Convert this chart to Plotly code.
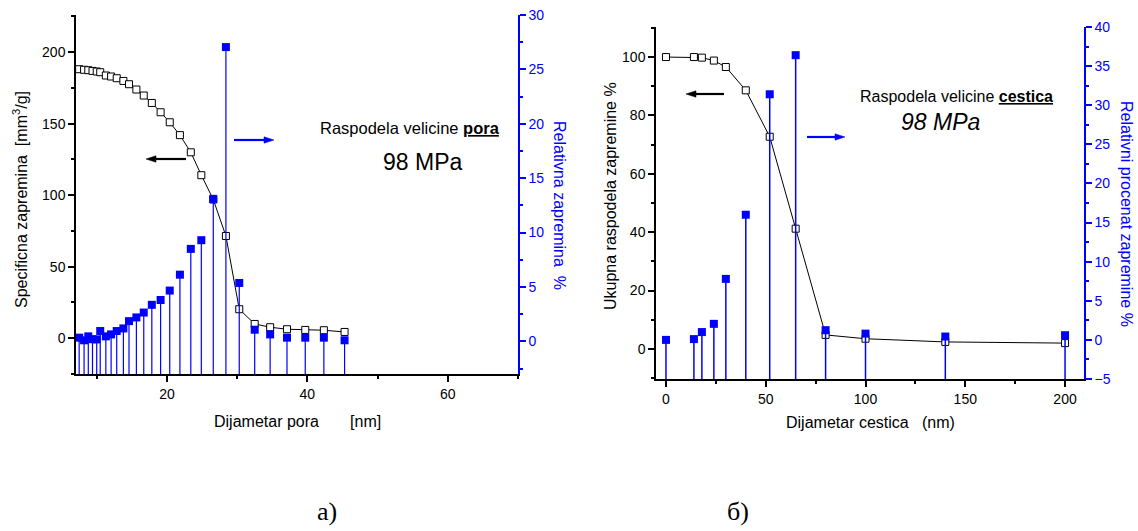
import plotly.graph_objects as go

# ---------- data: panel a) pore size distribution ----------
pore_d = [7.5, 8.2, 8.8, 9.4, 10.0, 10.5, 11.3, 12.05, 12.85, 13.8, 14.6, 15.65,
          16.7, 17.85, 19.1, 20.4, 21.85, 23.4, 24.9, 26.6, 28.4, 30.3, 32.5,
          34.7, 37.1, 39.7, 42.35, 45.3]
pore_cum = [188.1, 187.7, 187.4, 186.9, 186.5, 186.0, 183.7, 183.0, 181.8, 179.9,
            177.6, 173.9, 169.7, 164.5, 158.0, 151.0, 142.0, 130.0, 114.0, 97.0,
            71.5, 20.3, 10.0, 7.7, 6.3, 5.8, 5.6, 4.4]
pore_rel = [0.34, 0.1, 0.46, 0.2, 0.18, 0.95, 0.46, 0.64, 0.95, 1.19, 1.86, 2.2,
            2.65, 3.36, 3.8, 4.67, 6.13, 8.5, 9.3, 13.1, 27.05, 5.37, 1.07, 0.64,
            0.34, 0.34, 0.34, 0.1]

# ---------- data: panel b) particle size distribution ----------
part_d = [0, 14, 18, 24, 30, 40, 52, 65, 80, 100, 140, 200]
part_cum = [100.0, 100.0, 99.8, 98.8, 96.6, 88.6, 72.7, 41.2, 4.8, 3.5, 2.4, 2.0]
part_rel = [0.0, 0.1, 1.0, 2.05, 7.8, 16.0, 31.4, 36.4, 1.24, 0.8, 0.43, 0.6]

# axis ranges
xa_range = [7.05, 70]
ya_range = [-25, 226]
ya2_range = [-3, 30]
xb_range = [-5, 209.5]
yb_range = [-10.3, 110.3]
yb2_range = [-5, 40]

BLUE = "#0000ff"
FONT = "Liberation Sans, Arial, sans-serif"
W, H = 1138, 531


def px(x):
    return x / W


def py(y):
    return 1 - y / H


def stems(xs, ys, base):
    sx, sy = [], []
    for x, y in zip(xs, ys):
        sx += [x, x, None]
        sy += [base, y, None]
    return sx, sy


fig = go.Figure()

# panel a
fig.add_trace(go.Scatter(x=pore_d, y=pore_cum, mode="lines+markers", xaxis="x", yaxis="y",
                         line=dict(color="black", width=1),
                         marker=dict(symbol="square", size=7, color="white",
                                     line=dict(color="black", width=1)),
                         showlegend=False, hoverinfo="skip"))
sx, sy = stems(pore_d, pore_rel, ya2_range[0])
fig.add_trace(go.Scatter(x=sx, y=sy, mode="lines", xaxis="x", yaxis="y2",
                         line=dict(color=BLUE, width=1.2), showlegend=False, hoverinfo="skip"))
fig.add_trace(go.Scatter(x=pore_d, y=pore_rel, mode="markers", xaxis="x", yaxis="y2",
                         marker=dict(symbol="square", size=8, color=BLUE),
                         showlegend=False, hoverinfo="skip"))

# panel b
fig.add_trace(go.Scatter(x=part_d, y=part_cum, mode="lines+markers", xaxis="x2", yaxis="y3",
                         line=dict(color="black", width=1),
                         marker=dict(symbol="square", size=7, color="white",
                                     line=dict(color="black", width=1)),
                         showlegend=False, hoverinfo="skip"))
sx, sy = stems(part_d, part_rel, yb2_range[0])
fig.add_trace(go.Scatter(x=sx, y=sy, mode="lines", xaxis="x2", yaxis="y4",
                         line=dict(color=BLUE, width=1.5), showlegend=False, hoverinfo="skip"))
fig.add_trace(go.Scatter(x=part_d, y=part_rel, mode="markers", xaxis="x2", yaxis="y4",
                         marker=dict(symbol="square", size=8, color=BLUE),
                         showlegend=False, hoverinfo="skip"))

tickfont = dict(family=FONT, size=14, color="black")
bluefont = dict(family=FONT, size=14, color=BLUE)

dom_ax = [px(76), px(518)]
dom_ay = [py(374), py(15)]
dom_bx = [px(656), px(1084)]
dom_by = [py(379), py(27)]

common_x = dict(showline=True, linecolor="black", linewidth=1.5, ticks="outside",
                ticklen=6, tickwidth=1.5, tickcolor="black", showgrid=False,
                zeroline=False, tickfont=tickfont, automargin=False)
common_y = dict(showline=True, linecolor="black", linewidth=1.5, ticks="outside",
                ticklen=6, tickwidth=1.5, tickcolor="black", showgrid=False,
                zeroline=False, tickfont=tickfont, automargin=False)
blue_y = dict(showline=True, linecolor=BLUE, linewidth=1.5, ticks="outside",
              ticklen=6, tickwidth=1.5, tickcolor=BLUE, showgrid=False,
              zeroline=False, tickfont=bluefont, automargin=False)
top_x = dict(showline=True, linecolor="black", linewidth=1.5, ticks="inside",
             ticklen=6, tickwidth=1.5, tickcolor="black", showticklabels=False,
             showgrid=False, zeroline=False, automargin=False, side="top")

fig.update_layout(
    width=W, height=H, margin=dict(l=0, r=0, t=0, b=0, pad=0, autoexpand=False),
    paper_bgcolor="white", plot_bgcolor="rgba(0,0,0,0)",
    xaxis=dict(domain=dom_ax, range=xa_range, anchor="y", dtick=20, tick0=0,
               minor=dict(dtick=10, tick0=0, ticks="outside", ticklen=3, tickcolor="black"),
               **common_x),
    xaxis3=dict(domain=dom_ax, range=xa_range, anchor="y", overlaying="x",
                dtick=10, tick0=0, **top_x),
    yaxis=dict(domain=dom_ay, range=ya_range, anchor="x", dtick=50, tick0=0,
               minor=dict(dtick=25, tick0=0, ticks="outside", ticklen=3, tickcolor="black"),
               **common_y),
    yaxis2=dict(range=ya2_range, anchor="x", overlaying="y", side="right", dtick=5, tick0=0,
                minor=dict(dtick=2.5, tick0=0, ticks="outside", ticklen=3, tickcolor=BLUE),
                **blue_y),
    xaxis2=dict(domain=dom_bx, range=xb_range, anchor="y3", dtick=50, tick0=0,
                minor=dict(dtick=25, tick0=0, ticks="outside", ticklen=3, tickcolor="black"),
                **common_x),
    xaxis4=dict(domain=dom_bx, range=xb_range, anchor="y3", overlaying="x2",
                dtick=25, tick0=0, **top_x),
    yaxis3=dict(domain=dom_by, range=yb_range, anchor="x2", dtick=20, tick0=0,
                minor=dict(dtick=10, tick0=0, ticks="outside", ticklen=3, tickcolor="black"),
                **common_y),
    yaxis4=dict(range=yb2_range, anchor="x2", overlaying="y3", side="right", dtick=5, tick0=0,
                minor=dict(dtick=2.5, tick0=0, ticks="outside", ticklen=3, tickcolor=BLUE),
                **blue_y),
)

NB = "\u00a0"
ann = []
shapes = []


def text(x, y, t, size=15, color="black", angle=0, family=FONT):
    ann.append(dict(x=px(x), y=py(y), xref="paper", yref="paper", text=t, showarrow=False,
                    textangle=angle, xanchor="center", yanchor="middle",
                    font=dict(family=family, size=size, color=color)))


def arrow(x_head, y_head, x_tail, y_tail, color):
    # horizontal arrow: shaft line + narrow triangular head
    d = 1 if x_head > x_tail else -1
    hl, hw = 10, 3.2
    base_x = x_head - d * hl
    shapes.append(dict(type="line", xref="paper", yref="paper",
                       x0=px(x_tail), y0=py(y_tail), x1=px(base_x + d * 2), y1=py(y_head),
                       line=dict(color=color, width=2.2)))
    path = "M {:.5f} {:.5f} L {:.5f} {:.5f} L {:.5f} {:.5f} Z".format(
        px(x_head), py(y_head), px(base_x), py(y_head - hw), px(base_x), py(y_head + hw))
    shapes.append(dict(type="path", xref="paper", yref="paper", path=path,
                       fillcolor=color, line=dict(color=color, width=0.5)))


# axis titles
text(20, 200, "Specificna zapremina" + NB * 2 + "[mm<sup>3</sup>/g]", size=16, angle=-90)
text(297, 421, "Dijametar pora" + NB * 7 + "[nm]", size=16)
text(560, 205, "Relativna zapremina" + NB * 2 + "%", size=16, color=BLUE, angle=90)
text(610, 196, "Ukupna raspodela zapremine %", size=16, angle=-90)
text(870, 422, "Dijametar cestica" + NB * 3 + "(nm)", size=16)
text(1127, 214, "Relativni procenat zapremine %", size=16, color=BLUE, angle=90)

# inner labels
text(410, 128, "Raspodela velicine <b><u>pora</u></b>", size=16.5)
text(422, 162, "98 MPa", size=23)
text(956, 96, "Raspodela velicine <b><u>cestica</u></b>", size=16)
text(940, 122, "<i>98 MPa</i>", size=23)

# panel labels
text(327, 511, "a)", size=26, family="Liberation Serif, Times New Roman, serif")
text(738, 511, "б)", size=26, family="Liberation Serif, Times New Roman, serif")

# arrows
arrow(146, 159, 186, 159, "black")
arrow(274, 140, 234, 140, BLUE)
arrow(686, 94, 724, 94, "black")
arrow(845, 137, 807, 137, BLUE)

fig.update_layout(annotations=ann, shapes=shapes)

fig.write_html("out.html", config={"displayModeBar": False},
               post_script="document.body.style.margin='0';document.body.style.overflow='hidden';")
